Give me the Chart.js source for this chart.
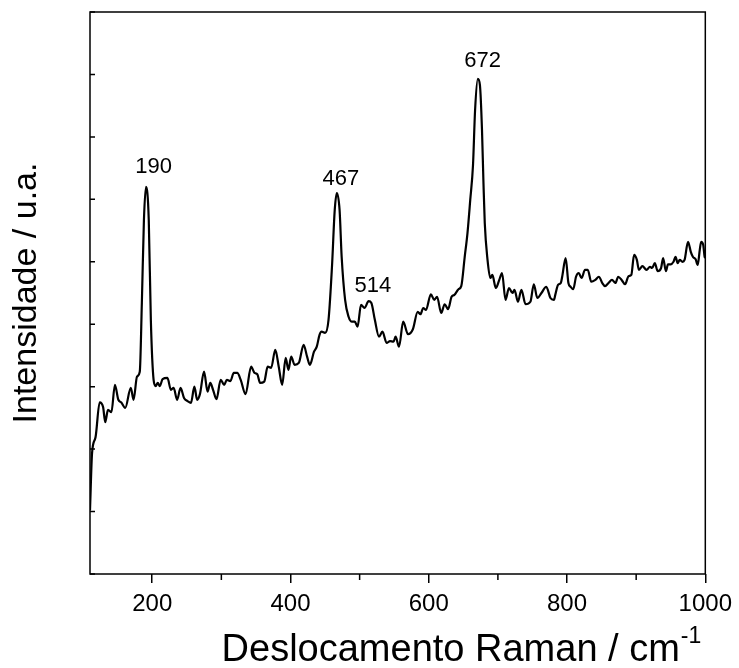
<!DOCTYPE html>
<html><head><meta charset="utf-8">
<script src="https://cdn.jsdelivr.net/npm/chart.js@4"></script>
<style>html,body{margin:0;padding:0;background:#fff}canvas{display:block}</style>
</head><body>
<canvas id="c" width="739" height="668"></canvas>
<script>
const ramanShift = [
110,113,118,124,129,132,136,141,146,151,
155,161,169,173,178,182,185,188,191,195,
198,202,205,208,211,215,222,227,231,236,
241,246,251,256,261,265,269,275,280,284,
288,293,299,304,308,313,318,323,328,335,
343,348,352,356,362,367,372,378,383,388,
393,397,401,406,412,419,424,428,434,438,
442,445,450,455,460,464,467,471,474,479,
484,489,493,497,502,507,513,517,522,528,
533,539,544,549,552,557,563,570,577,584,
588,592,596,603,608,612,618,623,628,633,
637,643,647,652,656,660,664,667,671,674,
677,679,681,685,689,692,697,702,706,711,
716,721,724,729,734,740,747,752,757,763,
770,776,781,783,787,791,793,798,802,805,
809,813,817,821,826,830,835,841,846,851,
855,860,865,870,874,879,884,889,893,897,
901,904,909,915,920,923,927,931,936,939,
943,946,950,954,957,960,963,967,970,975,
979,982,986,989,992,994,997,999,1000];
const intensity = [
102,194,219,275,267,243,263,259,303,279,
275,266,298,279,316,324,434,567,620,567,
407,311,301,306,301,312,314,295,298,279,
298,282,277,274,300,279,288,324,292,306,
295,280,311,303,311,309,322,322,311,288,
332,322,320,306,308,332,330,359,332,303,
346,327,348,335,338,367,348,335,356,364,
383,388,386,407,492,583,610,583,508,439,
412,404,404,396,431,426,437,434,407,380,
388,370,373,372,380,364,404,384,392,420,
416,426,423,448,439,444,418,432,424,444,
447,456,461,508,546,599,655,743,793,783,
711,631,562,503,474,479,458,471,482,439,
458,450,455,436,455,432,436,464,442,450,
460,442,439,447,463,466,476,506,466,460,
456,476,482,474,487,487,468,471,476,466,
461,466,471,466,476,471,464,477,479,511,
503,487,493,487,492,490,498,485,490,506,
485,496,496,500,508,498,503,500,503,532,
516,508,504,495,519,532,527,508,506];
const xMajorTicks = [200,400,600,800,1000];
const xMinorTicks = [300,500,700,900];
const yTicks = [0,100,200,300,400,500,600,700,800,900];
const peakLabels = ['190','467','514','672'];
const peakLabelX = [202,473,519,678];
const peakLabelY = [652,632,461,822];
const xTitle = 'Deslocamento Raman / cm';
const xTitleSup = '-1';
const yTitle = 'Intensidade / u.a.';

const FONT = '"Liberation Sans", Arial, Helvetica, sans-serif';

const decorPlugin = {
  id: 'decor',
  afterDatasetsDraw(chart) {
    const {ctx, chartArea: a, scales: {x, y}} = chart;
    ctx.save();
    ctx.strokeStyle = '#000';
    ctx.lineWidth = 1.5;
    ctx.strokeRect(a.left, a.top, a.right - a.left, a.bottom - a.top);
    ctx.beginPath();
    xMinorTicks.forEach(v => {
      const px = x.getPixelForValue(v);
      ctx.moveTo(px, a.bottom); ctx.lineTo(px, a.bottom + 6);
    });
    yTicks.forEach(v => {
      const py = y.getPixelForValue(v);
      ctx.moveTo(a.left, py); ctx.lineTo(a.left + 5, py);
    });
    ctx.stroke();
    ctx.fillStyle = '#000';
    ctx.font = '22px ' + FONT;
    ctx.textAlign = 'center';
    ctx.textBaseline = 'middle';
    peakLabels.forEach((t, i) => ctx.fillText(t, x.getPixelForValue(peakLabelX[i]), y.getPixelForValue(peakLabelY[i])));
    // x axis title with superscript, right end near the axis end
    ctx.textAlign = 'left';
    ctx.textBaseline = 'alphabetic';
    ctx.font = '38px ' + FONT;
    const w1 = ctx.measureText(xTitle).width;
    ctx.font = '23px ' + FONT;
    const w2 = ctx.measureText(xTitleSup).width;
    const x0 = a.right - 4 - (w1 + 1 + w2);
    const base = 661;
    ctx.font = '38px ' + FONT;
    ctx.fillText(xTitle, x0, base);
    ctx.font = '23px ' + FONT;
    ctx.fillText(xTitleSup, x0 + w1 + 1, base - 18);
    // y axis title
    ctx.save();
    ctx.translate(36, (a.top + a.bottom) / 2);
    ctx.rotate(-Math.PI / 2);
    ctx.textAlign = 'center';
    ctx.font = '34px ' + FONT;
    ctx.fillText(yTitle, 0, 0);
    ctx.restore();
    ctx.restore();
  }
};

new Chart(document.getElementById('c'), {
  type: 'line',
  data: {
    datasets: [{
      data: ramanShift.map((v, i) => ({x: v, y: intensity[i]})),
      borderColor: '#000',
      borderWidth: 2.2,
      pointRadius: 0,
      fill: false,
      cubicInterpolationMode: 'monotone'
    }]
  },
  options: {
    responsive: false,
    animation: false,
    devicePixelRatio: 1,
    layout: {padding: {top: 12, right: 30, left: 0, bottom: 0}},
    plugins: {legend: {display: false}, tooltip: {enabled: false}},
    scales: {
      x: {
        type: 'linear', min: 110, max: 1000,
        afterBuildTicks: s => { s.ticks = xMajorTicks.map(v => ({value: v})); },
        afterFit: s => { s.height = 94; },
        border: {display: false},
        grid: {display: true, drawOnChartArea: false, drawTicks: true, tickLength: 9, color: '#000', lineWidth: 1.5},
        ticks: {color: '#000', font: {family: FONT, size: 24}, padding: 7, maxRotation: 0, autoSkip: false, callback: v => String(v)}
      },
      y: {
        type: 'linear', min: 0, max: 900,
        afterBuildTicks: s => { s.ticks = yTicks.map(v => ({value: v})); },
        afterFit: s => { s.width = 90; },
        border: {display: false},
        grid: {display: false},
        ticks: {display: false}
      }
    }
  },
  plugins: [decorPlugin]
});
</script>
</body></html>
